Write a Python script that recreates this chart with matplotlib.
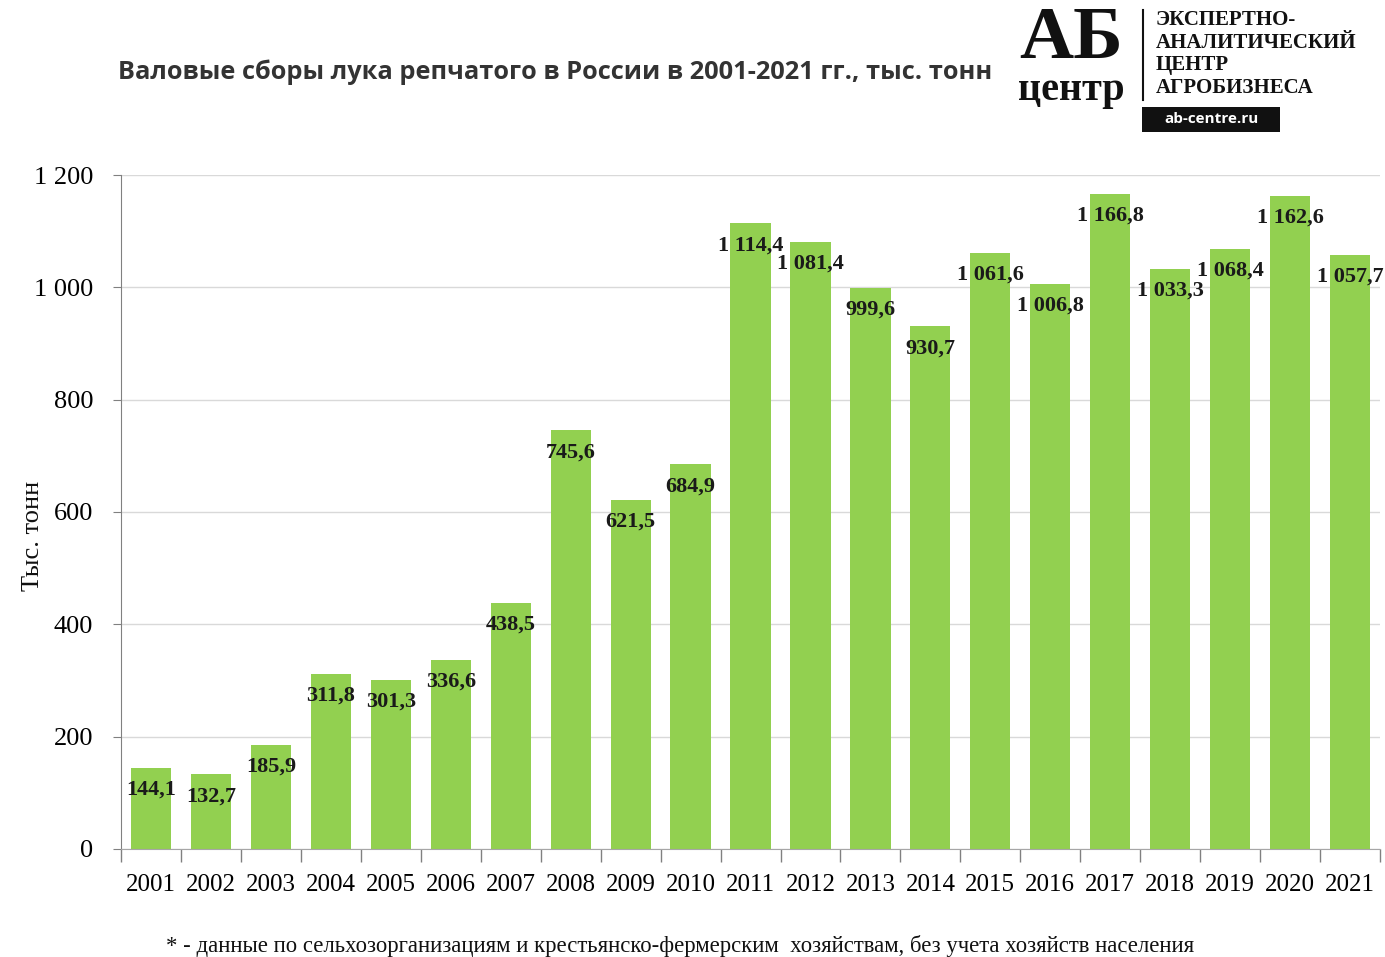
import matplotlib
matplotlib.use("Agg")
import matplotlib.pyplot as plt
from matplotlib.patches import Rectangle
from matplotlib.ticker import FuncFormatter, FixedLocator

years = [str(y) for y in range(2001, 2022)]
values = [144.1, 132.7, 185.9, 311.8, 301.3, 336.6, 438.5, 745.6, 621.5, 684.9,
          1114.4, 1081.4, 999.6, 930.7, 1061.6, 1006.8, 1166.8, 1033.3, 1068.4, 1162.6, 1057.7]
yticks = [0, 200, 400, 600, 800, 1000, 1200]

title = "Валовые сборы лука репчатого в России в 2001-2021 гг., тыс. тонн"
ylabel = "Тыс. тонн"
footnote = "* - данные по сельхозорганизациям и крестьянско-фермерским  хозяйствам, без учета хозяйств населения"

SERIF = "Liberation Serif"
SANS = "Open Sans"

def fmt_num(v, dec=True):
    if dec:
        s = f"{v:.1f}".replace(".", ",")
        ip, fp = s.split(",")
    else:
        ip, fp = f"{int(round(v))}", None
    if len(ip) > 3:
        ip = ip[:-3] + " " + ip[-3:]
    return ip + ("," + fp if fp is not None else "")

fig = plt.figure(figsize=(13.85, 9.57), dpi=100)
ax = fig.add_axes([0.0874, 0.1129, 0.909, 0.7042])

x = list(range(len(years)))
ax.bar(x, values, width=0.67, color="#92D050", zorder=2)
ax.set_xlim(-0.5, len(years) - 0.5)
ax.set_ylim(0, 1200)

ax.set_yticks(yticks)
ax.yaxis.set_major_formatter(FuncFormatter(lambda v, p: fmt_num(v, dec=False)))
ax.yaxis.grid(True, color="#d9d9d9", linewidth=1.0, zorder=0)
ax.tick_params(axis="y", length=6, color="#808080", labelsize=19, pad=14)
for lab in ax.get_yticklabels():
    lab.set_fontfamily(SERIF)

ax.set_xticks(x)
ax.set_xticklabels(years, fontfamily=SERIF, fontsize=18)
ax.tick_params(axis="x", which="major", length=0, pad=18)
ax.xaxis.set_minor_locator(FixedLocator([i - 0.5 for i in range(len(years) + 1)]))
ax.tick_params(axis="x", which="minor", length=9, color="#808080", width=1)

for s in ["top", "right"]:
    ax.spines[s].set_visible(False)
ax.spines["left"].set_color("#808080")
ax.spines["bottom"].set_color("#a6a6a6")

fig.text(0.0235, 0.44, ylabel, fontfamily=SERIF, fontsize=19, rotation=90,
         ha="center", va="center", color="#111111")

for xi, v in zip(x, values):
    ax.annotate(fmt_num(v), (xi, v), xytext=(0, -22), textcoords="offset pixels",
                ha="center", va="center",
                fontfamily=SERIF, fontweight="bold", fontsize=16, color="#1a1a1a", zorder=3)

fig.text(0.0852, 0.925, title, fontfamily=SANS, fontweight="bold", fontsize=18.3,
         color="#333333", ha="left", va="center")

fig.text(0.491, 0.0115, footnote, fontfamily=SERIF, fontsize=16.4, ha="center", va="center",
         color="#111111")

# logo
fig.text(0.7735, 0.958, "АБ", fontfamily=SERIF, fontweight="bold", fontsize=54,
         ha="center", va="center", color="#111111")
fig.text(0.7735, 0.905, "центр", fontfamily=SERIF, fontweight="bold", fontsize=29,
         ha="center", va="center", color="#111111")
fig.add_artist(plt.Line2D([0.8255, 0.8255], [0.895, 0.99], transform=fig.transFigure,
                          color="#111111", linewidth=1.5))
for i, t in enumerate(["ЭКСПЕРТНО-", "АНАЛИТИЧЕСКИЙ", "ЦЕНТР", "АГРОБИЗНЕСА"]):
    fig.text(0.8345, 0.979 - i * 0.0235, t, fontfamily=SERIF, fontweight="bold",
             fontsize=15, ha="left", va="center", color="#111111")
fig.add_artist(Rectangle((0.8245, 0.862), 0.1, 0.0265, transform=fig.transFigure,
                         facecolor="#111111", edgecolor="none"))
fig.text(0.8745, 0.8755, "ab-centre.ru", fontfamily=SANS, fontweight="bold", fontsize=11,
         ha="center", va="center", color="white")

fig.savefig("out.png", dpi=100, facecolor="white")
